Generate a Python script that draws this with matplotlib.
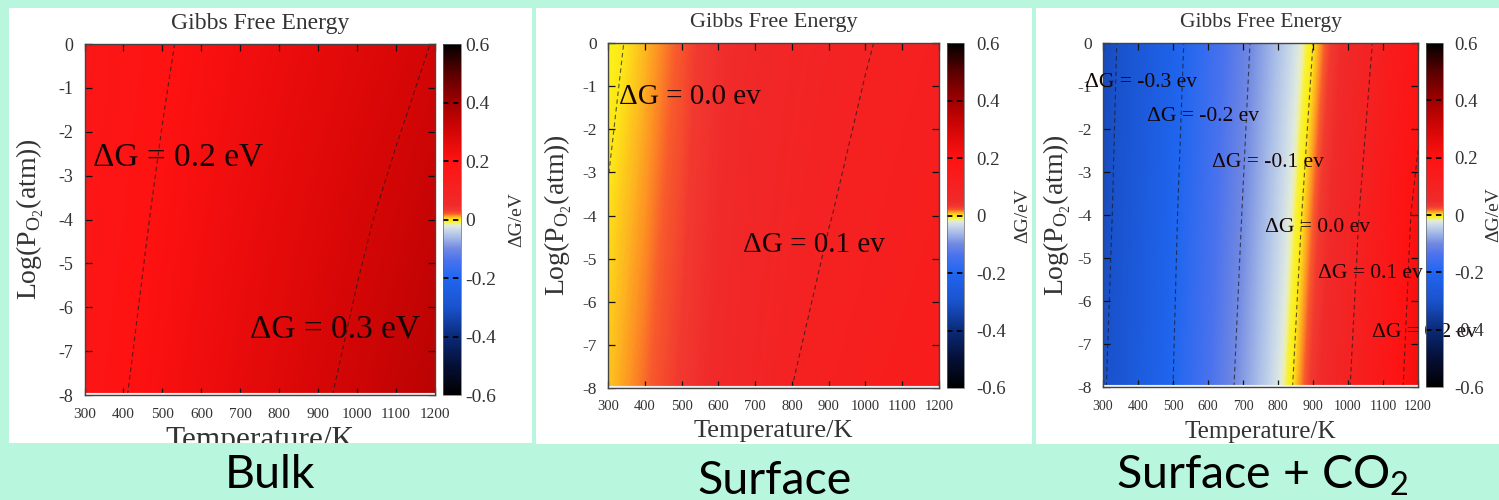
import numpy as np
import matplotlib
matplotlib.use("Agg")
import matplotlib.pyplot as plt
from matplotlib.colors import LinearSegmentedColormap, Normalize
from matplotlib.patches import Rectangle
from matplotlib.transforms import Bbox, TransformedBbox

# ---------------------------------------------------------------- data
temperatures = [300, 400, 500, 600, 700, 800, 900, 1000, 1100, 1200]   # K
log_po2 = [0, -4, -8]                                                 # rows

bulk_dg = [
    [0.165, 0.180, 0.195, 0.211, 0.226, 0.241, 0.256, 0.271, 0.286, 0.302],
    [0.171, 0.188, 0.206, 0.223, 0.241, 0.258, 0.275, 0.293, 0.310, 0.328],
    [0.179, 0.198, 0.217, 0.236, 0.255, 0.274, 0.293, 0.312, 0.331, 0.350],
]
surface_dg = [
    [-0.006, 0.008, 0.022, 0.042, 0.060, 0.075, 0.087, 0.098, 0.107, 0.115],
    [0.0015, 0.013, 0.027, 0.048, 0.068, 0.085, 0.099, 0.109, 0.118, 0.126],
    [0.006, 0.018, 0.032, 0.055, 0.078, 0.100, 0.112, 0.122, 0.130, 0.138],
]
surface_co2_dg = [
    [-0.320, -0.269, -0.216, -0.164, -0.111, -0.056, 0.000, 0.059, 0.118, 0.177],
    [-0.314, -0.261, -0.207, -0.153, -0.098, -0.040, 0.019, 0.079, 0.146, 0.214],
    [-0.305, -0.252, -0.200, -0.143, -0.085, -0.025, 0.035, 0.096, 0.162, 0.228],
]

bulk_levels = [0.2, 0.3]
surface_levels = [0.0, 0.1]
surface_co2_levels = [-0.3, -0.2, -0.1, 0.0, 0.1, 0.2]

bulk_labels = ["ΔG = 0.2 eV", "ΔG = 0.3 eV"]
surface_labels = ["ΔG = 0.0 ev", "ΔG = 0.1 ev"]
surface_co2_labels = ["ΔG = -0.3 ev", "ΔG = -0.2 ev", "ΔG = -0.1 ev",
                      "ΔG = 0.0 ev", "ΔG = 0.1 ev", "ΔG = 0.2 ev"]

panel_captions = ["Bulk", "Surface", r"Surface + CO$_\mathregular{2}$"]
panel_title = "Gibbs Free Energy"
x_label = "Temperature/K"
y_label = r"Log(P$_{\mathregular{O_2}}$(atm))"
cbar_label = "ΔG/eV"

x_ticks = [300, 400, 500, 600, 700, 800, 900, 1000, 1100, 1200]
y_ticks = [0, -1, -2, -3, -4, -5, -6, -7, -8]
cbar_ticks = [0.6, 0.4, 0.2, 0, -0.2, -0.4, -0.6]
cbar_dash_levels = [0.4, 0.2, 0.0, -0.2, -0.4]

# ---------------------------------------------------------------- style
MINT = "#b9f6de"
SERIF = ["Liberation Serif", "DejaVu Serif"]
plt.rcParams["font.family"] = SERIF
plt.rcParams["axes.unicode_minus"] = False

cmap_nodes = [
    (-0.600, "#000000"), (-0.500, "#050f35"), (-0.400, "#0a2a78"),
    (-0.300, "#1a52cc"), (-0.200, "#2066f0"), (-0.140, "#4a72ee"),
    (-0.100, "#7088e2"), (-0.060, "#a8bce8"), (-0.032, "#cfdde8"),
    (-0.021, "#e0eadc"), (-0.015, "#eef0a0"), (-0.010, "#f8f040"),
    (-0.004, "#fcf018"), (0.001, "#fde418"), (0.008, "#fdb820"),
    (0.014, "#fd8c24"), (0.020, "#f85a2c"), (0.030, "#f23a30"),
    (0.050, "#f02a2a"), (0.200, "#ff1212"), (0.300, "#d40606"),
    (0.400, "#a00000"), (0.500, "#5a0000"), (0.600, "#000000"),
]
vmin, vmax = -0.6, 0.6
cmap = LinearSegmentedColormap.from_list(
    "gibbs", [((v - vmin) / (vmax - vmin), c) for v, c in cmap_nodes], N=2048)
norm = Normalize(vmin, vmax)

W, H = 1499, 500


def frect(x0, y0, x1, y1):
    """pixel box (top-left origin) -> figure fraction [l, b, w, h]"""
    return [x0 / W, 1 - y1 / H, (x1 - x0) / W, (y1 - y0) / H]


panels = [
    dict(data=bulk_dg, levels=bulk_levels, labels=bulk_labels,
         label_pos=[(322, -2.58), (725, -6.5)],
         box=(9, 8, 532, 443), heat=(84.5, 44, 435, 395), cbar=(443, 44, 461, 395),
         title_y=23, ylab_x=30, xlab_base=448, cbar_lab_x=517,
         fs_title=17, fs_ytick=13, fs_xtick=11, fs_xlab=22.5, fs_ylab=20,
         fs_ctick=14, fs_clab=14, fs_ann=24, cpad=3,
         caption_x=270, caption_base=488),
    dict(data=surface_dg, levels=surface_levels, labels=surface_labels,
         label_pos=[(330, -1.25), (667, -4.68)],
         box=(536, 8, 1032, 444), heat=(608, 43, 939, 388), cbar=(947, 43, 964, 388),
         title_y=23, ylab_x=558, xlab_base=437, cbar_lab_x=1023,
         fs_title=16, fs_ytick=12.5, fs_xtick=10.5, fs_xlab=19, fs_ylab=20,
         fs_ctick=13.5, fs_clab=14, fs_ann=21, cpad=9,
         caption_x=775, caption_base=494),
    dict(data=surface_co2_dg, levels=surface_co2_levels, labels=surface_co2_labels,
         label_pos=[(249, -0.91), (426, -1.70), (611, -2.79), (763, -4.28),
                    (914, -5.35), (1069, -6.74)],
         box=(1036, 8, 1499, 444), heat=(1103, 43, 1418, 387), cbar=(1426, 43, 1443, 387),
         title_y=23, ylab_x=1057, xlab_base=438, cbar_lab_x=1494,
         fs_title=15.5, fs_ytick=12.5, fs_xtick=10, fs_xlab=18, fs_ylab=20,
         fs_ctick=13.5, fs_clab=14, fs_ann=15.5, cpad=8,
         caption_x=1262, caption_base=488),
]

fig = plt.figure(figsize=(W / 100, H / 100), dpi=100, facecolor=MINT)

for i, p in enumerate(panels):
    # white panel box (behind the axes)
    bx = frect(*p["box"])
    fig.patches.append(Rectangle((bx[0], bx[1]), bx[2], bx[3], transform=fig.transFigure,
                                 facecolor="white", edgecolor="none", zorder=-10))

    ax = fig.add_axes(frect(*p["heat"]))
    data = np.array(p["data"], dtype=float)
    hx = (temperatures[1] - temperatures[0]) / 2
    hy = abs(log_po2[1] - log_po2[0]) / 2
    extent = [temperatures[0] - hx, temperatures[-1] + hx,
              min(log_po2) - hy, max(log_po2) + hy]
    im = ax.imshow(data, cmap=cmap, norm=norm, extent=extent, origin="upper",
                   aspect="auto", interpolation="bilinear", interpolation_stage="data")
    ax.set_xlim(temperatures[0], temperatures[-1])
    ax.set_ylim(min(log_po2), max(log_po2))

    cs = ax.contour(temperatures, log_po2, data, levels=p["levels"],
                    colors="#1a1a1a", linewidths=0.8, alpha=0.7)
    cs.set_linestyle((0, (4, 3)))

    ax.axhline(min(log_po2), color="#f2f2f2", lw=3, zorder=2.4)

    for txt, (tx, ty) in zip(p["labels"], p["label_pos"]):
        ax.text(tx, ty, txt, ha="left", va="center", fontsize=p["fs_ann"],
                color="#150505", clip_on=False, zorder=10)

    ax.set_xticks(x_ticks)
    ax.set_xticklabels([str(t) for t in x_ticks])
    ax.set_yticks(y_ticks)
    ax.set_yticklabels([str(t) for t in y_ticks])
    ax.tick_params(direction="in", length=5, width=0.9, top=True, right=True,
                   color="#111111", labelcolor="#333333")
    ax.tick_params(axis="x", labelsize=p["fs_xtick"], pad=9)
    ax.tick_params(axis="y", labelsize=p["fs_ytick"], pad=8)
    for s in ax.spines.values():
        s.set_color("#444444")
        s.set_linewidth(1.0)

    # colorbar
    cax = fig.add_axes(frect(*p["cbar"]))
    cb = fig.colorbar(im, cax=cax, ticks=cbar_ticks)
    cax.set_yticklabels(["%g" % t for t in cbar_ticks])
    cax.tick_params(length=0, pad=p["cpad"], labelsize=p["fs_ctick"], labelcolor="#333333")
    cb.outline.set_linewidth(0.5)
    cb.outline.set_edgecolor("#666666")
    for lev in cbar_dash_levels:
        cax.axhline(lev, color="black", lw=1.3, ls=(0, (3, 2.5)))

    x0, y0, x1, y1 = p["heat"]
    cx = (x0 + x1) / 2
    cy = (y0 + y1) / 2
    fig.text(cx / W, 1 - p["title_y"] / H, panel_title, ha="center", va="center",
             fontsize=p["fs_title"], color="#333333")
    fig.text(p["ylab_x"] / W, 1 - cy / H, y_label, rotation=90, ha="center",
             va="center", fontsize=p["fs_ylab"], color="#333333")
    xl = fig.text(cx / W, 1 - p["xlab_base"] / H, x_label, ha="center", va="baseline",
                  fontsize=p["fs_xlab"], color="#333333")
    xl.set_clip_box(TransformedBbox(Bbox.from_bounds(*bx), fig.transFigure))
    xl.set_clip_on(True)
    fig.text(p["cbar_lab_x"] / W, 1 - cy / H, cbar_label, rotation=90, ha="center",
             va="center", fontsize=p["fs_clab"], color="#333333")

    fig.text(p["caption_x"] / W, 1 - p["caption_base"] / H, panel_captions[i],
             ha="center", va="baseline", fontsize=33.5, color="black",
             family=["Lato", "DejaVu Sans"])

fig.savefig("out.png", dpi=100, facecolor=MINT)
